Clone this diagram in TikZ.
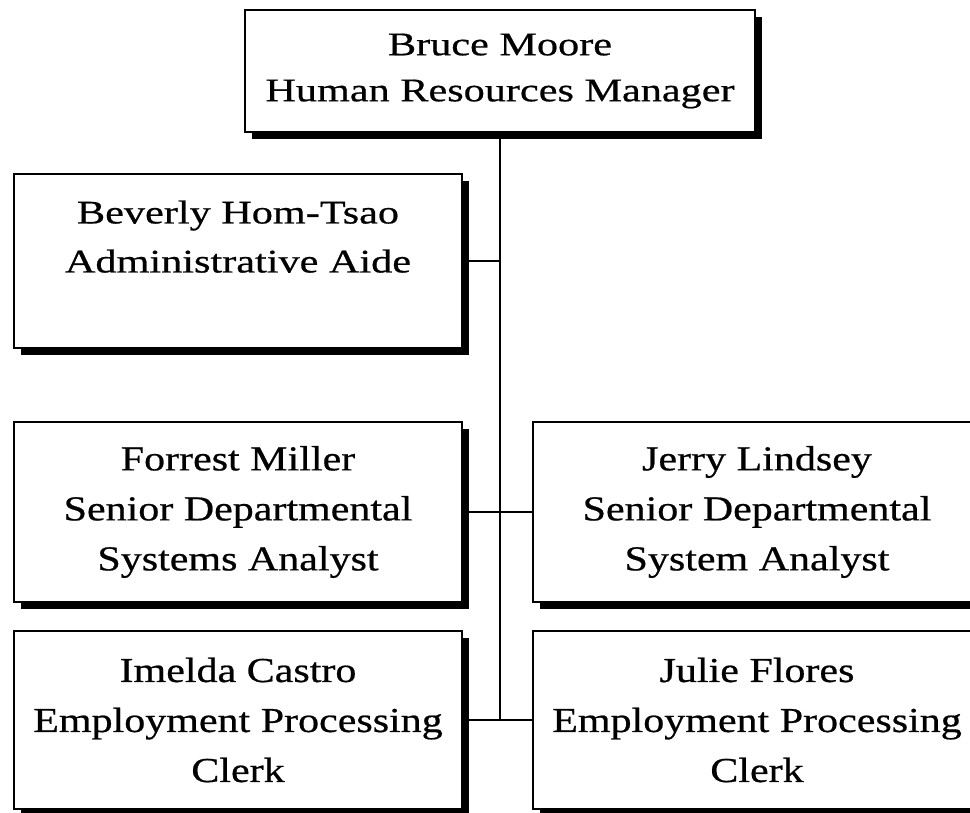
\documentclass[tikz,border=0pt]{standalone}
\usepackage{fontspec}
\setmainfont{Liberation Serif}
\newfontfamily\fontwide[FakeStretch=1.28,FakeBold=0.6]{Liberation Serif}
\newfontfamily\fontmid[FakeStretch=1.2,FakeBold=0.6]{Liberation Serif}
\usetikzlibrary{shadows}
\tikzset{
  orgbox/.style={draw=black, line width=2.2pt, fill=white, align=center,
    inner sep=0pt,
    drop shadow={shadow xshift=6.5pt, shadow yshift=-6.5pt, opacity=1, fill=black}},
  topfont/.style={font={\fontwide\fontsize{33}{46}\selectfont}},
  bevfont/.style={font={\fontwide\fontsize{33}{49}\selectfont}},
  lowfont/.style={font={\fontmid\fontsize{35}{50}\selectfont}},
  conn/.style={draw=black, line width=2.8pt}
}
\begin{document}
\begin{tikzpicture}[x=1pt,y=-1pt]
\useasboundingbox (0,0) rectangle (970,812);
\clip (0,0) rectangle (970,812);
\node[orgbox, topfont, minimum width=510pt, minimum height=122pt] (top) at (500,71)
  {Bruce Moore\\Human Resources Manager};
\node[orgbox, bevfont, minimum width=448pt, minimum height=174pt] (bev) at (238,261)
  {Beverly Hom-Tsao\\Administrative Aide\\\mbox{}};
\node[orgbox, lowfont, minimum width=448pt, minimum height=180pt] (forrest) at (238,512)
  {Forrest Miller\\Senior Departmental\\Systems Analyst};
\node[orgbox, lowfont, minimum width=448pt, minimum height=180pt] (jerry) at (757,512)
  {Jerry Lindsey\\Senior Departmental\\System Analyst};
\node[orgbox, lowfont, minimum width=448pt, minimum height=178pt] (imelda) at (238,720)
  {Imelda Castro\\Employment Processing\\Clerk};
\node[orgbox, lowfont, minimum width=448pt, minimum height=178pt] (julie) at (757,720)
  {Julie Flores\\Employment Processing\\Clerk};
\coordinate (vend) at (top.south |- imelda.east);
\draw[conn] (top.south) -- (vend);
\draw[conn] (bev.east) -- (bev.east -| top.south);
\draw[conn] (forrest.east) -- (jerry.west);
\draw[conn] (imelda.east) -- (julie.west);
\end{tikzpicture}
\end{document}
